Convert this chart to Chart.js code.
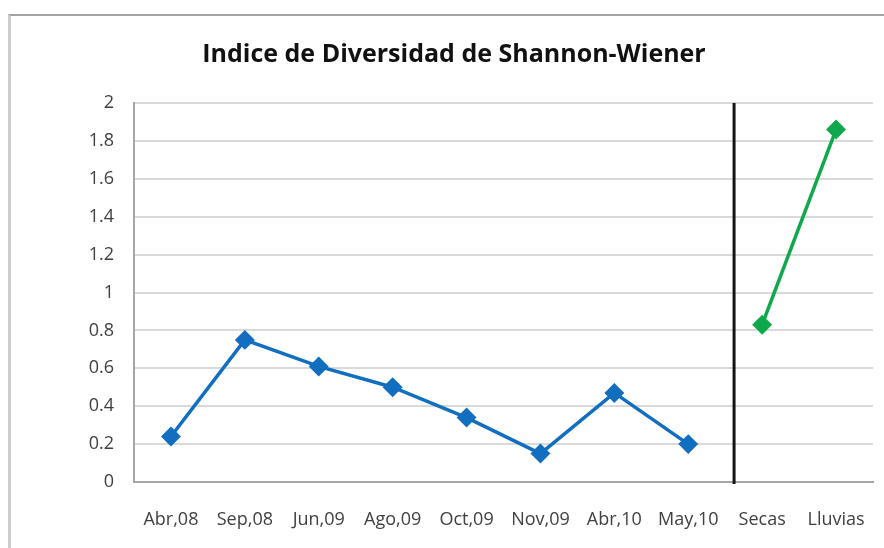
<!DOCTYPE html>
<html>
<head>
<meta charset="utf-8">
<script src="https://cdn.jsdelivr.net/npm/chart.js@4/dist/chart.umd.min.js"></script>
<style>
  html, body { margin: 0; padding: 0; background: #ffffff; overflow: hidden; }
  #wrap { position: relative; width: 884px; height: 548px; }
  #frame { position: absolute; left: 8px; top: 14px; right: 0; bottom: 0;
           border-top: 2px solid #a3a3a3; border-left: 3px solid #cdcdcd; pointer-events: none; }
  canvas { position: absolute; left: 0; top: 0; }
</style>
</head>
<body>
<div id="wrap">
  <div id="frame"></div>
  <canvas id="chart" width="884" height="548"></canvas>
</div>
<script>
// ---- data ----
const categories = ['Abr,08', 'Sep,08', 'Jun,09', 'Ago,09', 'Oct,09', 'Nov,09', 'Abr,10', 'May,10', 'Secas', 'Lluvias'];
const muestreos  = [0.24, 0.75, 0.61, 0.50, 0.34, 0.15, 0.47, 0.20, null, null];
const temporadas = [null, null, null, null, null, null, null, null, 0.83, 1.86];
const yMin = 0, yMax = 2, yStep = 0.2;
const chartTitle = 'Indice de Diversidad de Shannon-Wiener';
// divider between sampling dates and seasons (category index position)
const dividerAt = 7.62;

const dividerPlugin = {
  id: 'divider',
  afterDatasetsDraw(chart) {
    const { ctx, chartArea, scales } = chart;
    const x = scales.x.getPixelForValue(dividerAt);
    ctx.save();
    ctx.strokeStyle = '#141414';
    ctx.lineWidth = 3;
    ctx.beginPath();
    ctx.moveTo(x, chartArea.top);
    ctx.lineTo(x, chartArea.bottom + 2);
    ctx.stroke();
    ctx.restore();
  }
};

const tickFont = { family: "'Open Sans', sans-serif", size: 18 };

new Chart(document.getElementById('chart'), {
  type: 'line',
  data: {
    labels: categories,
    datasets: [
      {
        label: 'Muestreos',
        data: muestreos,
        borderColor: '#126ebf',
        backgroundColor: '#126ebf',
        borderWidth: 3.5,
        pointStyle: 'rectRot',
        pointRadius: 7.5,
        pointHoverRadius: 7.5,
        spanGaps: false,
        tension: 0
      },
      {
        label: 'Temporadas',
        data: temporadas,
        borderColor: '#0fa84c',
        backgroundColor: '#0fa84c',
        borderWidth: 3.5,
        pointStyle: 'rectRot',
        pointRadius: 7.5,
        pointHoverRadius: 7.5,
        spanGaps: false,
        tension: 0
      }
    ]
  },
  options: {
    responsive: false,
    animation: false,
    layout: { padding: { top: 15, left: 33, right: 9, bottom: 17 } },
    plugins: {
      legend: { display: false },
      tooltip: { enabled: false },
      title: {
        display: true,
        text: chartTitle,
        color: '#111111',
        font: { family: "'Open Sans', sans-serif", size: 25, weight: 'bold', lineHeight: 1.2 },
        padding: { top: 25, bottom: 33 }
      }
    },
    scales: {
      x: {
        offset: true,
        afterFit(scale) { scale.height = 49; },
        grid: { display: true, drawOnChartArea: false, drawTicks: true, tickLength: 27, tickColor: 'rgba(0,0,0,0)', offset: true },
        border: { display: true, color: '#a6a6a6', width: 2 },
        ticks: { color: '#404040', font: tickFont, padding: 0, maxRotation: 0, autoSkip: false }
      },
      y: {
        min: yMin,
        max: yMax,
        afterFit(scale) { scale.width = 101; },
        grid: { color: '#d9d9d9', lineWidth: 2, drawTicks: false },
        border: { display: true, color: '#a6a6a6', width: 2 },
        ticks: {
          stepSize: yStep,
          color: '#404040',
          font: tickFont,
          padding: 20,
          callback: v => String(Number(v.toFixed(1)))
        }
      }
    }
  },
  plugins: [dividerPlugin]
});
</script>
</body>
</html>
